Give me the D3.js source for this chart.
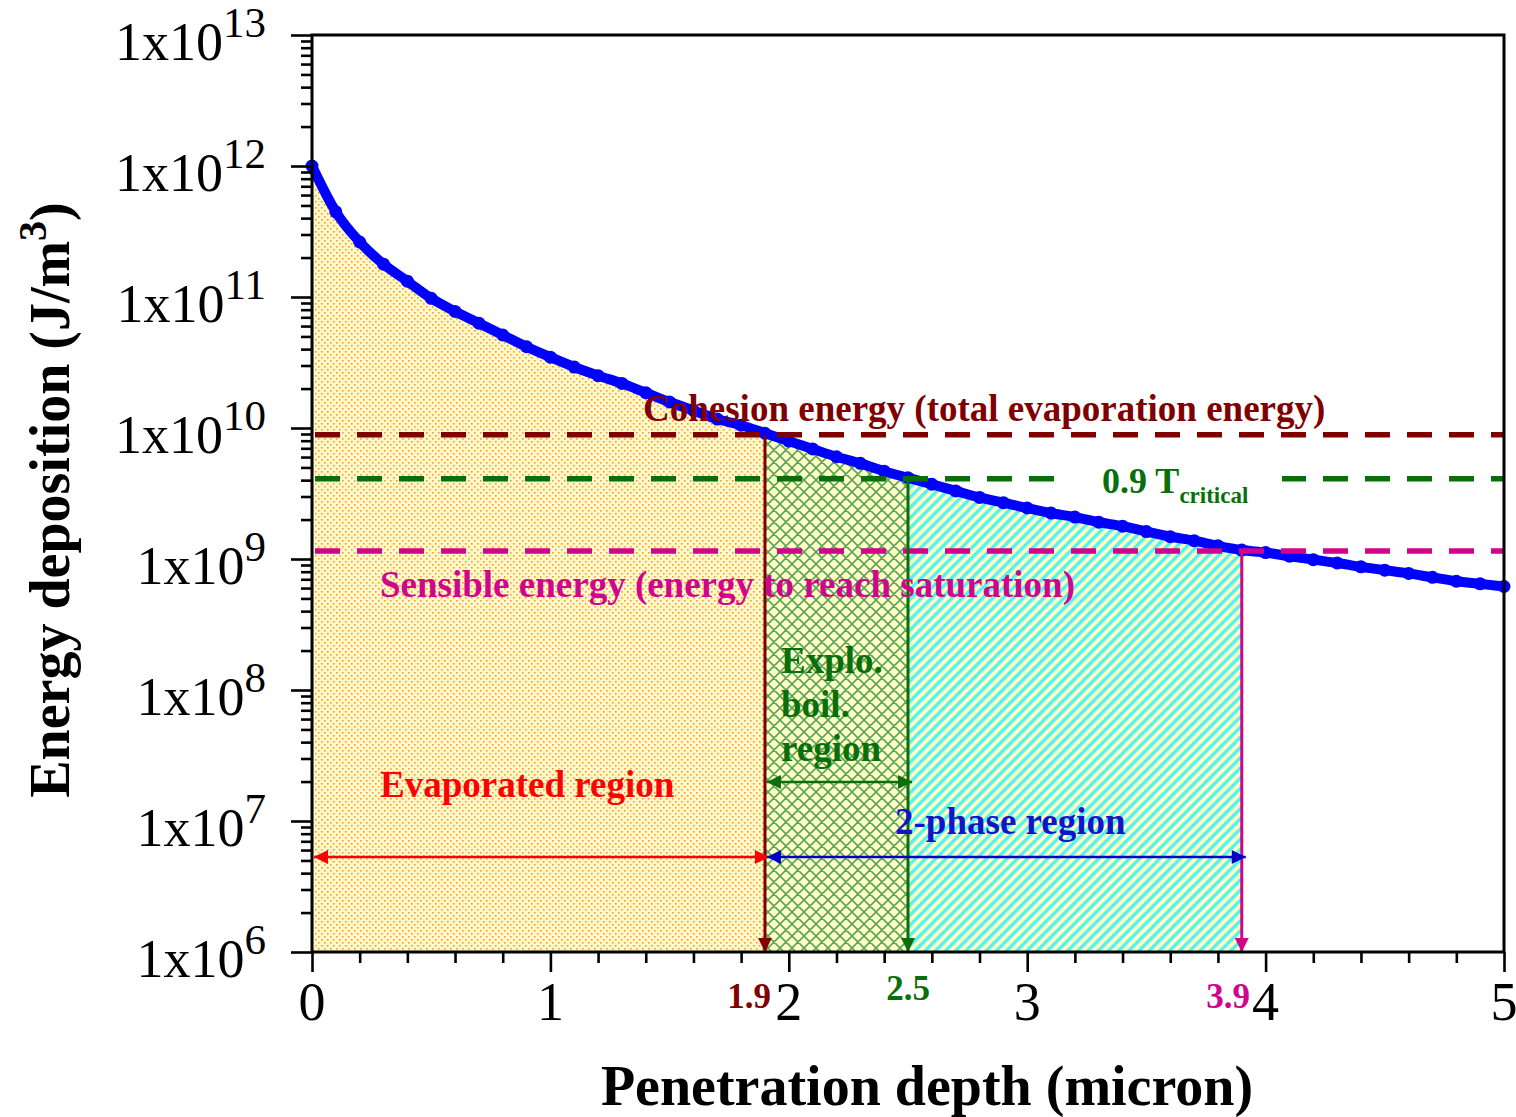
<!DOCTYPE html>
<html>
<head>
<meta charset="utf-8">
<script src="https://cdn.jsdelivr.net/npm/d3@7"></script>
<style>
  html, body { margin: 0; padding: 0; background: #fff; }
  svg { display: block; font-family: "Liberation Serif", "Times New Roman", serif; }
</style>
</head>
<body>
<svg id="chart" width="1516" height="1117"></svg>
<script>
// Energy deposited per unit volume versus penetration depth (micron)
const depth = [0.0, 0.1, 0.2, 0.3, 0.4, 0.5, 0.6, 0.7, 0.8, 0.9,
               1.0, 1.1, 1.2, 1.3, 1.4, 1.5, 1.6, 1.7, 1.8, 1.9,
               2.0, 2.1, 2.2, 2.3, 2.4, 2.5, 2.6, 2.7, 2.8, 2.9,
               3.0, 3.1, 3.2, 3.3, 3.4, 3.5, 3.6, 3.7, 3.8, 3.9,
               4.0, 4.1, 4.2, 4.3, 4.4, 4.5, 4.6, 4.7, 4.8, 4.9, 5.0];
const energy = [1.00e12, 4.47e11, 2.63e11, 1.78e11, 1.32e11, 9.77e10, 7.76e10, 6.31e10, 5.13e10, 4.17e10,
                3.47e10, 2.92e10, 2.51e10, 2.19e10, 1.86e10, 1.58e10, 1.36e10, 1.17e10, 1.05e10, 9.12e9,
                7.94e9, 6.92e9, 6.03e9, 5.37e9, 4.68e9, 4.17e9, 3.72e9, 3.31e9, 2.95e9, 2.69e9,
                2.45e9, 2.24e9, 2.09e9, 1.91e9, 1.78e9, 1.62e9, 1.48e9, 1.38e9, 1.26e9, 1.17e9,
                1.12e9, 1.05e9, 9.89e8, 9.33e8, 8.71e8, 8.22e8, 7.76e8, 7.24e8, 6.76e8, 6.46e8, 6.17e8];

// Energy thresholds (J/m^3)
const cohesionEnergy = 8.9e9;
const criticalEnergy = 4.1e9;   // 0.9 T_critical
const sensibleEnergy = 1.15e9;

// Region boundaries (micron)
const boundaryDepths = [1.9, 2.5, 3.9];
const boundaryLabels = ["1.9", "2.5", "3.9"];

// Axis ticks
const xTicks = [0, 1, 2, 3, 4, 5];
const xMinorTicks = [0.2, 0.4, 0.6, 0.8, 1.2, 1.4, 1.6, 1.8, 2.2, 2.4, 2.6, 2.8,
                     3.2, 3.4, 3.6, 3.8, 4.2, 4.4, 4.6, 4.8];
const yExponents = [6, 7, 8, 9, 10, 11, 12, 13];

const svg = d3.select("#chart");
const L = 312, R = 1504, T = 35, B = 952;

const x = d3.scaleLinear().domain([0, 5]).range([L, R]);
const y = d3.scaleLog().domain([1e6, 1e13]).range([B, T]);

const COL = {
  darkred: "#800000",
  green: "#0a6e0a",
  magenta: "#d0058c",
  red: "#ff0000",
  blue: "#0000ff",
  navy: "#1414c8"
};

// ---------- patterns ----------
const defs = svg.append("defs");

const dots = defs.append("pattern").attr("id", "dots")
  .attr("patternUnits", "userSpaceOnUse").attr("width", 6).attr("height", 6);
dots.append("rect").attr("width", 6).attr("height", 6).attr("fill", "#fff8c8");
dots.append("rect").attr("x", 0).attr("y", 0).attr("width", 1.6).attr("height", 1.6).attr("fill", "#ff9a2a");
dots.append("rect").attr("x", 3).attr("y", 3).attr("width", 1.6).attr("height", 1.6).attr("fill", "#ff9a2a");

const cross = defs.append("pattern").attr("id", "cross")
  .attr("patternUnits", "userSpaceOnUse").attr("width", 12).attr("height", 12);
cross.append("rect").attr("width", 12).attr("height", 12).attr("fill", "#ffffc4");
cross.append("path").attr("d", "M0,0 L12,12 M0,12 L12,0 M-3,3 L3,-3 M9,15 L15,9 M-3,9 L3,15 M9,-3 L15,3")
  .attr("stroke", "#5ca35c").attr("stroke-width", 1.6).attr("fill", "none");

const stripes = defs.append("pattern").attr("id", "stripes")
  .attr("patternUnits", "userSpaceOnUse").attr("width", 7.2).attr("height", 7.2)
  .attr("patternTransform", "rotate(45)");
stripes.append("rect").attr("width", 7.2).attr("height", 7.2).attr("fill", "#ffffc4");
stripes.append("rect").attr("x", 0).attr("width", 3.4).attr("height", 7.2).attr("fill", "#55f2f2");

// arrow markers
function marker(id, color) {
  defs.append("marker").attr("id", id)
    .attr("viewBox", "0 0 10 10").attr("refX", 10).attr("refY", 5)
    .attr("markerUnits", "userSpaceOnUse")
    .attr("markerWidth", 16).attr("markerHeight", 14)
    .attr("orient", "auto-start-reverse")
    .append("path").attr("d", "M0,0 L10,5 L0,10 Z").attr("fill", color);
}
marker("arDarkred", COL.darkred);
marker("arGreen", COL.green);
marker("arMagenta", COL.magenta);
marker("arRed", COL.red);
marker("arNavy", "#0000c8");

// ---------- filled regions under the curve ----------
const pts = depth.map((d, i) => [d, energy[i]]);
const area = d3.area()
  .x(d => x(d[0])).y0(y(1e6)).y1(d => y(d[1]) + 3)
  .curve(d3.curveMonotoneX);
const seg = (a, b) => pts.filter(p => p[0] >= a - 1e-9 && p[0] <= b + 1e-9);

svg.append("path").datum(seg(0, boundaryDepths[0])).attr("d", area).attr("fill", "url(#dots)");
svg.append("path").datum(seg(boundaryDepths[0], boundaryDepths[2])).attr("d", area).attr("fill", "url(#stripes)");
svg.append("path").datum(seg(boundaryDepths[0], boundaryDepths[1])).attr("d", area).attr("fill", "url(#cross)");

// ---------- energy curve ----------
const line = d3.line().x(d => x(d[0])).y(d => y(d[1])).curve(d3.curveMonotoneX);
svg.append("path").datum(pts).attr("d", line)
  .attr("fill", "none").attr("stroke", COL.blue).attr("stroke-width", 10)
  .attr("stroke-linejoin", "round").attr("stroke-linecap", "round");
svg.append("g").selectAll("circle").data(pts).join("circle")
  .attr("cx", d => x(d[0])).attr("cy", d => y(d[1])).attr("r", 6.5)
  .attr("fill", COL.blue);

// ---------- threshold dashed lines ----------
const thresholds = [
  { v: cohesionEnergy, c: COL.darkred },
  { v: criticalEnergy, c: COL.green },
  { v: sensibleEnergy, c: COL.magenta }
];
svg.append("g").selectAll("line").data(thresholds).join("line")
  .attr("x1", L + 3).attr("x2", R).attr("y1", d => y(d.v)).attr("y2", d => y(d.v))
  .attr("stroke", d => d.c).attr("stroke-width", 5.5).attr("stroke-dasharray", "25,17");

// ---------- vertical boundary arrows ----------
const vArrows = [
  { d: boundaryDepths[0], v: cohesionEnergy, c: COL.darkred, m: "arDarkred" },
  { d: boundaryDepths[1], v: criticalEnergy, c: COL.green, m: "arGreen" },
  { d: boundaryDepths[2], v: sensibleEnergy, c: COL.magenta, m: "arMagenta" }
];
svg.append("g").selectAll("line").data(vArrows).join("line")
  .attr("x1", d => x(d.d)).attr("x2", d => x(d.d))
  .attr("y1", d => y(d.v)).attr("y2", B)
  .attr("stroke", d => d.c).attr("stroke-width", 3)
  .attr("marker-end", d => `url(#${d.m})`);

// ---------- horizontal region arrows ----------
const hArrows = [
  { a: 0, b: boundaryDepths[0], yy: 857, c: COL.red, m: "arRed" },
  { a: boundaryDepths[0], b: boundaryDepths[2], yy: 857, c: "#0000c8", m: "arNavy" },
  { a: boundaryDepths[0], b: boundaryDepths[1], yy: 782, c: COL.green, m: "arGreen" }
];
svg.append("g").selectAll("line").data(hArrows).join("line")
  .attr("x1", d => x(d.a) + 2).attr("x2", d => x(d.b) + 4)
  .attr("y1", d => d.yy).attr("y2", d => d.yy)
  .attr("stroke", d => d.c).attr("stroke-width", 2.5)
  .attr("marker-start", d => `url(#${d.m})`).attr("marker-end", d => `url(#${d.m})`);

// ---------- axes ----------
const yMajor = yExponents.map(e => Math.pow(10, e));
const yMinor = [];
yExponents.slice(0, -1).forEach(e => { for (let k = 2; k <= 9; k++) yMinor.push(k * Math.pow(10, e)); });

function styleAxis(g) {
  g.select(".domain").remove();
  g.selectAll(".tick line").attr("stroke", "#000").attr("stroke-width", 2.6);
  g.selectAll(".tick text").remove();
}
svg.append("g").attr("transform", `translate(${L},0)`)
  .call(d3.axisLeft(y).tickValues(yMinor).tickSize(11).tickFormat("")).call(styleAxis);
svg.append("g").attr("transform", `translate(${L},0)`)
  .call(d3.axisLeft(y).tickValues(yMajor).tickSize(21).tickFormat("")).call(styleAxis);
svg.append("g").attr("transform", `translate(0,${B})`)
  .call(d3.axisBottom(x).tickValues(xMinorTicks).tickSize(11).tickFormat("")).call(styleAxis);
svg.append("g").attr("transform", `translate(0,${B})`)
  .call(d3.axisBottom(x).tickValues(xTicks).tickSize(20).tickFormat("")).call(styleAxis);

// frame
svg.append("path")
  .attr("d", `M${L},${T} L${R},${T} L${R},${B} L${L},${B} Z`)
  .attr("fill", "none").attr("stroke", "#000").attr("stroke-width", 3);

// y tick labels 1x10^n
const yl = svg.append("g").selectAll("text").data(yExponents).join("text")
  .attr("x", 266).attr("y", e => y(Math.pow(10, e)) + 25)
  .attr("text-anchor", "end").attr("font-size", 54).attr("fill", "#000");
yl.append("tspan").text("1x10");
yl.append("tspan").attr("dy", -23).attr("font-size", 43).text(e => e);

// x tick labels
svg.append("g").selectAll("text").data(xTicks).join("text")
  .attr("x", d => x(d)).attr("y", 1020)
  .attr("text-anchor", "middle").attr("font-size", 54).attr("fill", "#000")
  .text(d => d);

// boundary value labels under the axis
const bl = [
  { t: boundaryLabels[0], xx: 749, yy: 1008, c: COL.darkred },
  { t: boundaryLabels[1], xx: 908, yy: 1000, c: COL.green },
  { t: boundaryLabels[2], xx: 1228, yy: 1008, c: COL.magenta }
];
svg.append("g").selectAll("text").data(bl).join("text")
  .attr("x", d => d.xx).attr("y", d => d.yy).attr("text-anchor", "middle")
  .attr("font-size", 35).attr("font-weight", "bold").attr("fill", d => d.c)
  .text(d => d.t);

// axis titles
svg.append("text").attr("x", 927).attr("y", 1105).attr("text-anchor", "middle")
  .attr("font-size", 56).attr("font-weight", "bold").text("Penetration depth (micron)");
const yt = svg.append("text").attr("transform", "translate(69,500) rotate(-90)")
  .attr("text-anchor", "middle").attr("font-size", 56).attr("font-weight", "bold");
yt.append("tspan").text("Energy deposition (J/m");
yt.append("tspan").attr("dy", -23).attr("font-size", 40).text("3");
yt.append("tspan").attr("dy", 23).text(")");

// ---------- annotations ----------
function label(t, xx, yy, c) {
  return svg.append("text").attr("x", xx).attr("y", yy)
    .attr("font-size", 37).attr("font-weight", "bold").attr("fill", c).text(t);
}
label("Cohesion energy (total evaporation energy)", 643, 421, COL.darkred);
label("Sensible energy (energy to reach saturation)", 380, 597, COL.magenta);
label("Evaporated region", 380, 797, COL.red);
label("2-phase region", 895, 834, COL.navy);
label("Explo.", 781, 673, COL.green);
label("boil.", 781, 717, COL.green);
label("region", 781, 761, COL.green);

// 0.9 T_critical label on a white box over the dashed line
svg.append("rect").attr("x", 1060).attr("y", 460).attr("width", 222).attr("height", 40).attr("fill", "#fff");
const tc = svg.append("text").attr("x", 1102).attr("y", 493)
  .attr("font-size", 36).attr("font-weight", "bold").attr("fill", COL.green);
tc.append("tspan").text("0.9 T");
tc.append("tspan").attr("dy", 10).attr("font-size", 23).text("critical");
</script>
</body>
</html>
